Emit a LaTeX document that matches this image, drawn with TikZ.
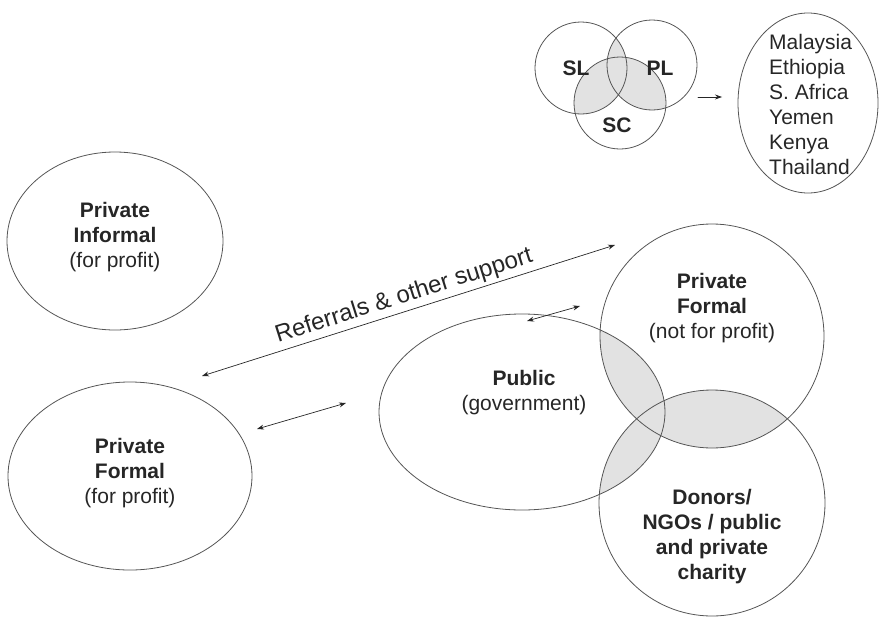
\documentclass[tikz,border=0pt]{standalone}
\usepackage{fontspec}
\setmainfont{Liberation Sans}
\usetikzlibrary{arrows.meta}
\definecolor{overlap}{HTML}{E2E2E2}
\definecolor{rim}{HTML}{555555}
\tikzset{
  rimline/.style={draw=rim, line width=0.8pt},
  sectortext/.style={align=center, text=black!85, font=\fontsize{21}{25}\selectfont},
  twoway/.style={<->, line width=0.7pt, black!85},
}
\begin{document}
\begin{tikzpicture}[x=1pt, y=-1pt, line join=round, line cap=round, >={Stealth[length=7pt, width=5pt]}]
		\useasboundingbox (0,0) rectangle (880,621);
		\path
		(115,241) coordinate (PI)
		(130,476) coordinate (PF)
		(522,412) coordinate (PU)
		(712,336) coordinate (NP)
		(712,503) coordinate (DO)
		(581,68) coordinate (SL)
		(652,65) coordinate (PL)
		(620,103) coordinate (SC)
		(808,103) coordinate (CT)
		(202,376) coordinate (R1)
		(615,245) coordinate (R2)
		(257,429) coordinate (F1)
		(346,403) coordinate (F2)
		(527,321) coordinate (U1)
		(580,306) coordinate (U2)
		(698,97) coordinate (V1)
		(722,97) coordinate (V2)
		;
		% shaded overlaps
		\begin{scope}
		\clip (PU) ellipse [x radius=143, y radius=98];
		\fill[overlap] (NP) circle [radius=112];
		\fill[overlap] (DO) circle [radius=113];
		\end{scope}
		\begin{scope}
		\clip (NP) circle [radius=112];
		\fill[overlap] (DO) circle [radius=113];
		\end{scope}
		\begin{scope}
		\clip (SL) circle [radius=46];
		\fill[overlap] (PL) circle [radius=45];
		\fill[overlap] (SC) circle [radius=46];
		\end{scope}
		\begin{scope}
		\clip (PL) circle [radius=45];
		\fill[overlap] (SC) circle [radius=46];
		\end{scope}
		% outlines
		\draw[rimline] (PI) ellipse [x radius=108, y radius=89];
		\draw[rimline] (PF) ellipse [x radius=122, y radius=94];
		\draw[rimline] (PU) ellipse [x radius=143, y radius=98];
		\draw[rimline] (NP) circle [radius=112];
		\draw[rimline] (DO) circle [radius=113];
		\draw[rimline] (SL) circle [radius=46];
		\draw[rimline] (PL) circle [radius=45];
		\draw[rimline] (SC) circle [radius=46];
		\draw[rimline] (CT) ellipse [x radius=70, y radius=90];
		% labels
		\node[sectortext] (informal) at (115,237) {\textbf{Private}\\\textbf{Informal}\\(for profit)};
		\node[sectortext] (formal) at (130,473) {\textbf{Private}\\\textbf{Formal}\\(for profit)};
		\node[sectortext] (public) at (524,393) {\textbf{Public}\\(government)};
		\node[sectortext] (nonprofit) at (712,308) {\textbf{Private}\\\textbf{Formal}\\(not for profit)};
		\node[sectortext] (donors) at (712,537) {\textbf{Donors/}\\\textbf{NGOs / public}\\\textbf{and private}\\\textbf{charity}};
		\node[sectortext] (sl) at (576,68) {\textbf{SL}};
		\node[sectortext] (pl) at (660,68) {\textbf{PL}};
		\node[sectortext] (sc) at (617,125) {\textbf{SC}};
		\node[sectortext, align=left, anchor=west, inner sep=0pt] (countries) at (769,104) {Malaysia\\Ethiopia\\S. Africa\\Yemen\\Kenya\\Thailand};
		% arrows
		\draw[twoway] (R1)--(R2) node[midway, above, sloped, black!85, font=\fontsize{24}{28}\selectfont] (referrals) {Referrals \& other support};
		\draw[twoway] (F1)--(F2);
		\draw[twoway] (U1)--(U2);
		\draw[->, line width=0.7pt, black!85] (V1)--(V2);
		\end{tikzpicture}
\end{document}
